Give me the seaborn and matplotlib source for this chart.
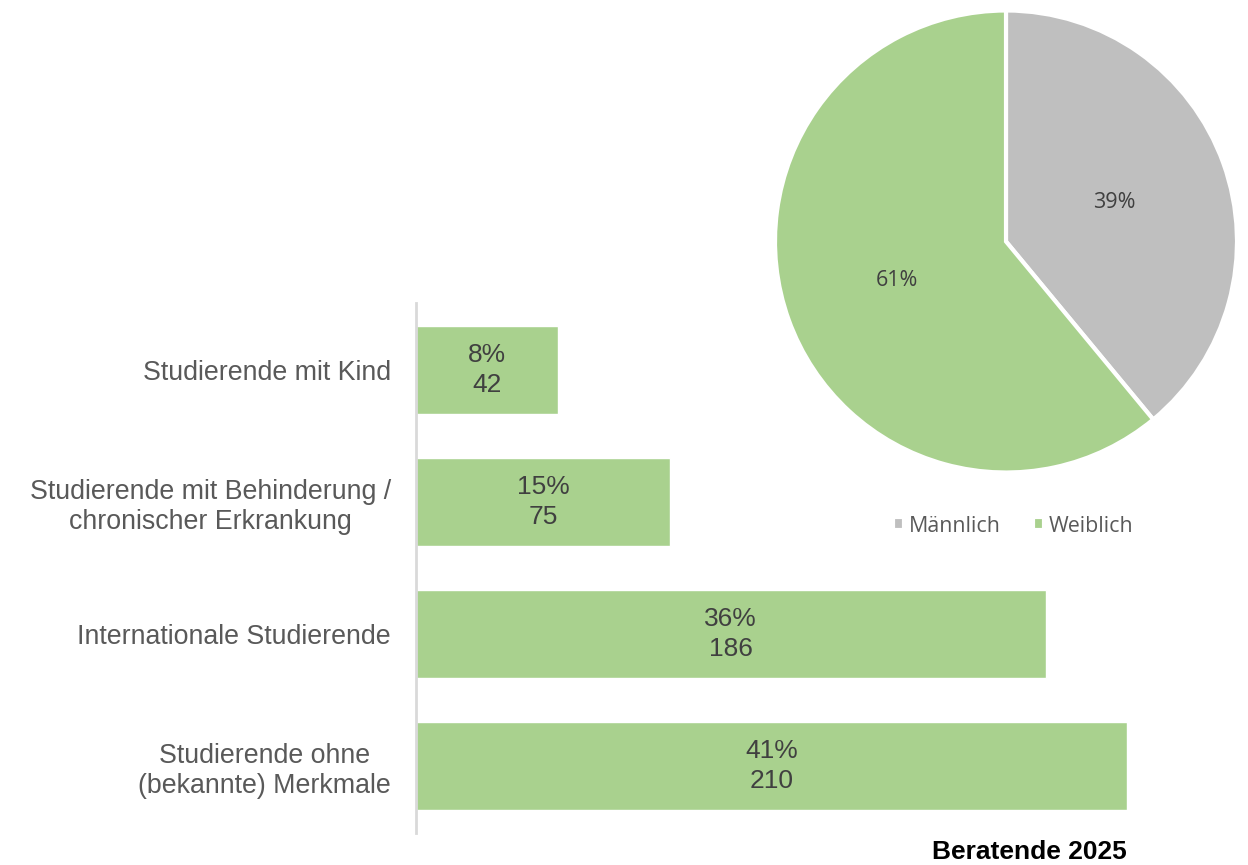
import matplotlib
matplotlib.use("Agg")
import matplotlib.pyplot as plt
import seaborn as sns

# data
categories = [
    "Studierende mit Kind",
    "Studierende mit Behinderung /\nchronischer Erkrankung",
    "Internationale Studierende",
    "Studierende ohne\n(bekannte) Merkmale",
]
counts = [42, 75, 186, 210]
percents = ["8%", "15%", "36%", "41%"]

gender_labels = ["Männlich", "Weiblich"]
gender_shares = [39, 61]

green = "#A9D18E"
grey = "#BFBFBF"

sns.set_style("white")
plt.rcParams["font.family"] = ["Liberation Sans", "DejaVu Sans"]

fig = plt.figure(figsize=(12.48, 8.65), dpi=100)

# bar chart
ax = fig.add_axes([0.3333, 0.037, 0.5697, 0.6127])
sns.barplot(x=counts, y=categories, color=green, saturation=1, width=0.667,
            orient="h", ax=ax)
ax.set_xlim(0, 210)
ax.set_ylim(3.508, -0.508)
ax.set_xticks([])
ax.set_xlabel("")
for s in ["top", "right", "bottom"]:
    ax.spines[s].set_visible(False)
ax.spines["left"].set_color("#D9D9D9")
ax.spines["left"].set_linewidth(2)
ax.tick_params(axis="y", length=0, pad=18, labelsize=19.3, labelcolor="#595959")
for lab in ax.get_yticklabels():
    lab.set_multialignment("center")
    lab.set_linespacing(1.18)

bar_texts = [f"{p}\n{c}" for p, c in zip(percents, counts)]
ax.bar_label(ax.containers[0], labels=bar_texts, label_type="center",
             fontsize=19, color="#404040", linespacing=1.32)

# pie chart
r = 231
cx, cy = 1006, 241.5
pax = fig.add_axes([(cx - r) / 1248, (865 - cy - r) / 865, 2 * r / 1248, 2 * r / 865])
wedges, texts, autotexts = pax.pie(
    gender_shares, colors=[grey, green], startangle=90, counterclock=False,
    autopct="%d%%", pctdistance=0.5, radius=1,
    wedgeprops=dict(edgecolor="white", linewidth=3),
    textprops=dict(fontsize=15.5, color="#404040", family=["Open Sans", "DejaVu Sans"]),
)
pax.set_xlim(-1, 1)
pax.set_ylim(-1, 1)
pax.set_aspect("equal")

fig.legend(wedges, gender_labels, loc="center", bbox_to_anchor=(1013 / 1248, 1 - 526 / 865),
           ncol=2, frameon=False, handlelength=0.55, handleheight=0.55, handletextpad=0.2,
           columnspacing=1.5,
           prop=dict(family=["Open Sans", "DejaVu Sans"], size=15.4),
           labelcolor="#595959")

fig.text(1127 / 1248, 1 - 852 / 865, "Beratende 2025", ha="right", va="center",
         fontsize=19, fontweight="bold", color="black")

fig.savefig("out.png", dpi=100)
